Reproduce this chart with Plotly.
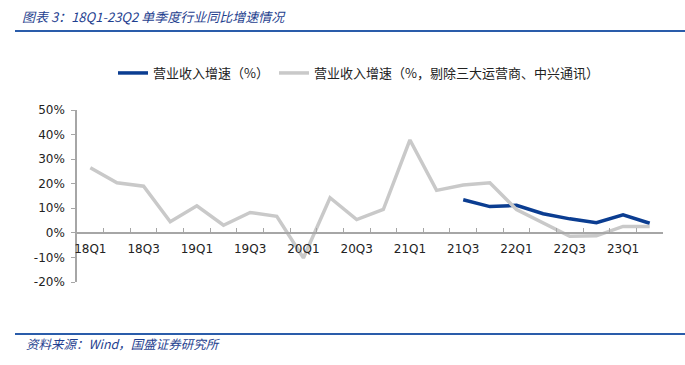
import plotly.graph_objects as go

quarters = ["18Q1", "18Q2", "18Q3", "18Q4", "19Q1", "19Q2", "19Q3", "19Q4",
            "20Q1", "20Q2", "20Q3", "20Q4", "21Q1", "21Q2", "21Q3", "21Q4",
            "22Q1", "22Q2", "22Q3", "22Q4", "23Q1", "23Q2"]
rev_growth = [None] * 14 + [13.5, 10.7, 11.2, 7.8, 5.7, 4.1, 7.3, 3.9]
rev_growth_ex = [26.5, 20.4, 19.0, 4.5, 11.0, 3.1, 8.3, 6.7,
                 -10.2, 14.3, 5.4, 9.5, 37.8, 17.3, 19.5, 20.4,
                 9.5, 4.1, -1.4, -1.2, 2.6, 2.6]
y_ticks = [-20, -10, 0, 10, 20, 30, 40, 50]
y_tick_text = [f"{v}%" for v in y_ticks]
name1 = "营业收入增速（%）"
name2 = "营业收入增速（%，剔除三大运营商、中兴通讯）"
title_text = "图表 3：18Q1-23Q2 单季度行业同比增速情况"
source_text = "资料来源：Wind，国盛证券研究所"

idx = list(range(len(quarters)))
W, H = 685, 365
L, R, T, B = 77, 22, 110, 83
pw = W - L - R
ph = H - T - B
ymin, ymax = -20, 50
zero_pos = (0 - ymin) / (ymax - ymin)

def px_x(p):
    return (p - L) / pw

def px_y(p):
    return (H - B - p) / ph

blue = "#0b3d91"
gray = "#c9c9c9"
axis_col = "#a6a6a6"
cjk = "Noto Sans CJK SC"
latin = "DejaVu Sans"

fig = go.Figure()
fig.add_trace(go.Scatter(x=idx, y=rev_growth, mode="lines", name=name1,
                         line=dict(color=blue, width=3.5), connectgaps=False))
fig.add_trace(go.Scatter(x=idx, y=rev_growth_ex, mode="lines", name=name2,
                         line=dict(color=gray, width=3.5)))
# invisible trace to activate the tick axis
fig.add_trace(go.Scatter(x=idx, y=rev_growth_ex, xaxis="x2", mode="lines",
                         line=dict(width=0), showlegend=False, hoverinfo="skip",
                         opacity=0))

fig.update_layout(
    width=W, height=H,
    margin=dict(l=L, r=R, t=T, b=B),
    paper_bgcolor="white", plot_bgcolor="white",
    showlegend=True,
    legend=dict(orientation="h", x=px_x(113), xanchor="left", y=px_y(73), yanchor="middle",
                font=dict(family=cjk, size=13, color="#222222"), itemwidth=30,
                bgcolor="rgba(0,0,0,0)"),
    xaxis=dict(range=[-0.5, len(quarters) - 0.5], anchor="free", position=zero_pos,
               tickmode="array", tickvals=idx[::2], ticktext=quarters[::2],
               ticks="", showline=False, showgrid=False, zeroline=False,
               ticklabelstandoff=7,
               tickfont=dict(family=latin, size=12, color="#222222")),
    xaxis2=dict(range=[-0.5, len(quarters) - 0.5], anchor="free", position=zero_pos,
                overlaying="x", side="bottom",
                tickmode="array", tickvals=[i - 0.5 for i in idx] + [len(quarters) - 0.5],
                ticks="inside", ticklen=4, tickcolor=axis_col, showticklabels=False,
                showline=True, linecolor=axis_col, linewidth=1.5,
                showgrid=False, zeroline=False),
    yaxis=dict(range=[ymin, ymax], tickmode="array", tickvals=y_ticks,
               ticktext=y_tick_text, ticks="outside", ticklen=4, tickcolor=axis_col,
               showline=True, linecolor=axis_col, linewidth=1.5,
               showgrid=False, zeroline=False, ticklabelstandoff=4,
               tickfont=dict(family=latin, size=12, color="#222222")),
    title=dict(text=title_text, xref="container", yref="container",
               x=22 / W, xanchor="left", y=1 - 17 / H, yanchor="middle",
               font=dict(family=cjk, size=13, color="#1f3f8f", style="italic")),
    shapes=[
        dict(type="line", xref="paper", yref="paper", x0=px_x(15), x1=px_x(W),
             y0=px_y(31), y1=px_y(31), line=dict(color="#2a5caa", width=2)),
        dict(type="line", xref="paper", yref="paper", x0=px_x(15), x1=px_x(W),
             y0=px_y(334), y1=px_y(334), line=dict(color="#2a5caa", width=2)),
    ],
    annotations=[
        dict(text=source_text, xref="paper", yref="paper", x=px_x(24), xanchor="left",
             y=px_y(343), yanchor="middle", showarrow=False,
             font=dict(family=cjk, size=12.5, color="#1f3f8f", style="italic")),
    ],
)

fig.write_html("out.html", config={"displayModeBar": False},
               post_script="document.body.style.margin='0';")
